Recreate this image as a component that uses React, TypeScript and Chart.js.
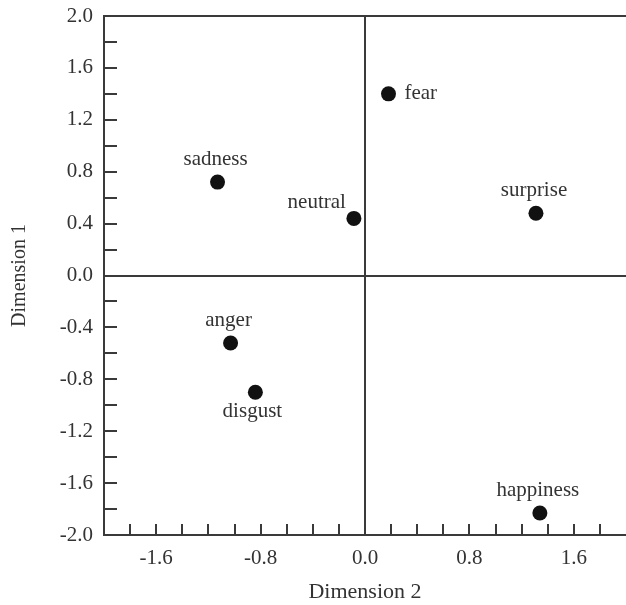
import React, { useEffect, useRef } from "react";
import { Chart, registerables } from "chart.js";

Chart.register(...registerables);

const emotions = ["fear", "sadness", "neutral", "surprise", "anger", "disgust", "happiness"];
const dimension2 = [0.18, -1.13, -0.085, 1.31, -1.03, -0.84, 1.34];
const dimension1 = [1.4, 0.72, 0.44, 0.48, -0.52, -0.9, -1.83];
const labelPlacement = ["right", "above", "aboveLeft", "above", "above", "below", "above"];
const xTickLabels = ["-1.6", "-0.8", "0.0", "0.8", "1.6"];
const yTickLabels = ["2.0", "1.6", "1.2", "0.8", "0.4", "0.0", "-0.4", "-0.8", "-1.2", "-1.6", "-2.0"];

const FONT = "'Liberation Serif', 'Times New Roman', serif";
const INK = "#3a3a3a";
const TEXT = "#333333";

const fmt = (v: number) => {
  const s = (Math.round(v * 10) / 10).toFixed(1);
  return s === "-0.0" ? "0.0" : s;
};

const zeroPadding = (scale: any) => {
  scale.paddingTop = 0;
  scale.paddingBottom = 0;
  scale.paddingLeft = 0;
  scale.paddingRight = 0;
};

const decorPlugin = {
  id: "decor",
  afterDraw(chart: any) {
    const { ctx, chartArea } = chart;
    const xs = chart.scales.x;
    const ys = chart.scales.y;
    ctx.save();
    ctx.strokeStyle = INK;
    ctx.lineWidth = 2;
    // top border
    ctx.beginPath();
    ctx.moveTo(chartArea.left - 1, chartArea.top);
    ctx.lineTo(chartArea.right, chartArea.top);
    ctx.stroke();
    // inner ticks on y axis
    ys.ticks.forEach((t: any) => {
      if (Math.abs(Math.abs(t.value) - 2) < 1e-6) return;
      const py = Math.round(ys.getPixelForValue(t.value));
      ctx.beginPath();
      ctx.moveTo(chartArea.left, py);
      ctx.lineTo(chartArea.left + 13, py);
      ctx.stroke();
    });
    // inner ticks on x axis
    xs.ticks.forEach((t: any) => {
      if (Math.abs(Math.abs(t.value) - 2) < 1e-6) return;
      const px = Math.round(xs.getPixelForValue(t.value));
      ctx.beginPath();
      ctx.moveTo(px, chartArea.bottom);
      ctx.lineTo(px, chartArea.bottom - 11);
      ctx.stroke();
    });
    // point labels
    const meta = chart.getDatasetMeta(0);
    ctx.fillStyle = TEXT;
    ctx.font = `21px ${FONT}`;
    ctx.textBaseline = "alphabetic";
    meta.data.forEach((el: any, i: number) => {
      const p = labelPlacement[i];
      const name = emotions[i];
      if (p === "right") {
        ctx.textAlign = "left";
        ctx.fillText(name, el.x + 16, el.y + 5);
      } else if (p === "aboveLeft") {
        ctx.textAlign = "right";
        ctx.fillText(name, el.x - 8, el.y - 10);
      } else if (p === "below") {
        ctx.textAlign = "center";
        ctx.fillText(name, el.x - 3, el.y + 25);
      } else {
        ctx.textAlign = "center";
        ctx.fillText(name, el.x - 2, el.y - 17);
      }
    });
    ctx.restore();
  },
};

export default function App() {
  const ref = useRef<HTMLCanvasElement | null>(null);

  useEffect(() => {
    if (!ref.current) return;
    const chart = new Chart(ref.current, {
      type: "scatter",
      data: {
        datasets: [
          {
            label: "emotions",
            data: dimension2.map((x, i) => ({ x, y: dimension1[i] })),
            pointRadius: 7.5,
            pointHoverRadius: 7.5,
            pointBackgroundColor: "#111111",
            pointBorderColor: "#111111",
            pointBorderWidth: 0,
          },
        ],
      },
      options: {
        responsive: false,
        animation: false,
        events: [],
        layout: { autoPadding: false, padding: { top: 16, right: 0, left: 0, bottom: 0 } },
        plugins: {
          legend: { display: false },
          tooltip: { enabled: false },
        },
        scales: {
          x: {
            type: "linear",
            min: -2,
            max: 2,
            afterFit(scale: any) {
              scale.height = 70;
              zeroPadding(scale);
            },
            border: { display: true, color: INK, width: 2 },
            grid: {
              drawTicks: false,
              color: (c: any) => (c.tick && Math.abs(c.tick.value) < 1e-9 ? INK : "rgba(0,0,0,0)"),
              lineWidth: 2,
            },
            ticks: {
              stepSize: 0.2,
              autoSkip: false,
              maxRotation: 0,
              padding: 11,
              color: TEXT,
              font: { family: FONT, size: 21 },
              callback: (v: any) => {
                const s = fmt(Number(v));
                return xTickLabels.includes(s) ? s : "";
              },
            },
            title: {
              display: true,
              text: "Dimension 2",
              color: TEXT,
              font: { family: FONT, size: 22 },
              padding: { top: 0, bottom: 0 },
            },
          },
          y: {
            type: "linear",
            min: -2,
            max: 2,
            afterFit(scale: any) {
              scale.width = 104;
              zeroPadding(scale);
            },
            border: { display: true, color: INK, width: 2 },
            grid: {
              drawTicks: false,
              color: (c: any) => (c.tick && Math.abs(c.tick.value) < 1e-9 ? INK : "rgba(0,0,0,0)"),
              lineWidth: 2,
            },
            ticks: {
              stepSize: 0.2,
              autoSkip: false,
              padding: 11,
              color: TEXT,
              font: { family: FONT, size: 21 },
              callback: (v: any) => {
                const s = fmt(Number(v));
                return yTickLabels.includes(s) ? s : "";
              },
            },
            title: {
              display: true,
              text: "Dimension 1",
              color: TEXT,
              font: { family: FONT, size: 20 },
              padding: { top: 8, bottom: 0 },
            },
          },
        },
      },
      plugins: [decorPlugin],
    });
    return () => chart.destroy();
  }, []);

  return (
    <div style={{ position: "absolute", left: 0, top: 0, width: 626, height: 605, background: "#fff" }}>
      <canvas ref={ref} width={626} height={605} />
    </div>
  );
}
